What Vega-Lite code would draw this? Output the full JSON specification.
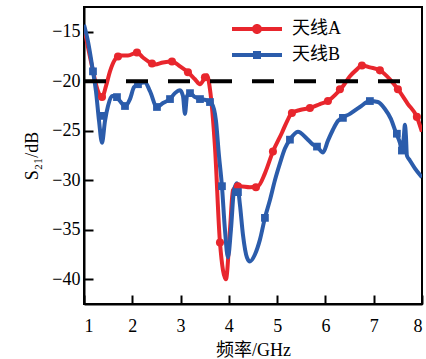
{
  "$schema": "https://vega.github.io/schema/vega-lite/v6.json",
  "width": 338,
  "height": 297,
  "autosize": "none",
  "padding": {"left": 84, "top": 7, "right": 4, "bottom": 55},
  "config": {
    "view": {"stroke": "black", "strokeWidth": 2},
    "font": "Liberation Serif",
    "axis": {
      "domainColor": "black", "domainWidth": 2, "tickColor": "black", "tickWidth": 2,
      "tickSize": -9, "grid": false, "labelFont": "Liberation Serif", "labelFontSize": 18,
      "labelColor": "black", "titleFont": "Liberation Serif, Noto Sans CJK SC", "titleFontSize": 18,
      "titleColor": "black", "titleFontWeight": "normal"
    }
  },
  "datasets": {
    "curve": [
      {"s":"天线A","f":1.0,"v":-14.5},{"s":"天线A","f":1.166,"v":-18.5},{"s":"天线A","f":1.29,"v":-21.0},{"s":"天线A","f":1.373,"v":-21.6},{"s":"天线A","f":1.455,"v":-20.5},{"s":"天线A","f":1.538,"v":-19.0},{"s":"天线A","f":1.642,"v":-17.8},{"s":"天线A","f":1.745,"v":-17.4},{"s":"天线A","f":1.911,"v":-17.4},{"s":"天线A","f":2.097,"v":-17.1},{"s":"天线A","f":2.222,"v":-17.6},{"s":"天线A","f":2.366,"v":-18.1},{"s":"天线A","f":2.47,"v":-18.3},{"s":"天线A","f":2.636,"v":-18.1},{"s":"天线A","f":2.822,"v":-18.0},{"s":"天线A","f":2.988,"v":-18.5},{"s":"天线A","f":3.153,"v":-19.1},{"s":"天线A","f":3.298,"v":-19.8},{"s":"天线A","f":3.402,"v":-20.3},{"s":"天线A","f":3.484,"v":-19.8},{"s":"天线A","f":3.547,"v":-19.4},{"s":"天线A","f":3.609,"v":-20.8},{"s":"天线A","f":3.712,"v":-26.6},{"s":"天线A","f":3.816,"v":-36.3},{"s":"天线A","f":3.94,"v":-40.0},{"s":"天线A","f":4.023,"v":-35.0},{"s":"天线A","f":4.085,"v":-31.0},{"s":"天线A","f":4.147,"v":-30.7},{"s":"天线A","f":4.23,"v":-30.6},{"s":"天线A","f":4.437,"v":-30.7},{"s":"天线A","f":4.602,"v":-30.6},{"s":"天线A","f":4.747,"v":-29.3},{"s":"天线A","f":4.913,"v":-27.1},{"s":"天线A","f":5.099,"v":-25.2},{"s":"天线A","f":5.2,"v":-24.1},{"s":"天线A","f":5.306,"v":-23.2},{"s":"天线A","f":5.472,"v":-22.9},{"s":"天线A","f":5.679,"v":-22.7},{"s":"天线A","f":5.886,"v":-22.3},{"s":"天线A","f":6.052,"v":-22.0},{"s":"天线A","f":6.197,"v":-21.4},{"s":"天线A","f":6.362,"v":-20.5},{"s":"天线A","f":6.507,"v":-19.5},{"s":"天线A","f":6.652,"v":-18.8},{"s":"天线A","f":6.756,"v":-18.4},{"s":"天线A","f":6.921,"v":-18.6},{"s":"天线A","f":7.128,"v":-18.9},{"s":"天线A","f":7.335,"v":-19.8},{"s":"天线A","f":7.501,"v":-20.8},{"s":"天线A","f":7.708,"v":-22.3},{"s":"天线A","f":7.894,"v":-23.6},{"s":"天线A","f":7.998,"v":-25.1},
      {"s":"天线B","f":1.0,"v":-14.3},{"s":"天线B","f":1.083,"v":-16.0},{"s":"天线B","f":1.186,"v":-19.0},{"s":"天线B","f":1.248,"v":-21.0},{"s":"天线B","f":1.311,"v":-24.0},{"s":"天线B","f":1.373,"v":-26.2},{"s":"天线B","f":1.435,"v":-24.0},{"s":"天线B","f":1.497,"v":-22.5},{"s":"天线B","f":1.58,"v":-21.5},{"s":"天线B","f":1.663,"v":-21.5},{"s":"天线B","f":1.745,"v":-22.0},{"s":"天线B","f":1.849,"v":-22.5},{"s":"天线B","f":1.952,"v":-21.8},{"s":"天线B","f":2.035,"v":-20.6},{"s":"天线B","f":2.118,"v":-20.3},{"s":"天线B","f":2.263,"v":-20.1},{"s":"天线B","f":2.366,"v":-21.0},{"s":"天线B","f":2.511,"v":-22.6},{"s":"天线B","f":2.636,"v":-22.2},{"s":"天线B","f":2.781,"v":-21.8},{"s":"天线B","f":2.884,"v":-21.2},{"s":"天线B","f":2.988,"v":-20.9},{"s":"天线B","f":3.05,"v":-21.5},{"s":"天线B","f":3.091,"v":-23.3},{"s":"天线B","f":3.133,"v":-21.5},{"s":"天线B","f":3.195,"v":-21.2},{"s":"天线B","f":3.298,"v":-21.6},{"s":"天线B","f":3.402,"v":-21.8},{"s":"天线B","f":3.526,"v":-21.9},{"s":"天线B","f":3.65,"v":-22.3},{"s":"天线B","f":3.733,"v":-24.0},{"s":"天线B","f":3.795,"v":-27.5},{"s":"天线B","f":3.857,"v":-30.6},{"s":"天线B","f":3.919,"v":-35.0},{"s":"天线B","f":3.981,"v":-37.8},{"s":"天线B","f":4.043,"v":-35.0},{"s":"天线B","f":4.106,"v":-31.0},{"s":"天线B","f":4.168,"v":-30.3},{"s":"天线B","f":4.23,"v":-32.5},{"s":"天线B","f":4.292,"v":-35.5},{"s":"天线B","f":4.375,"v":-37.8},{"s":"天线B","f":4.437,"v":-38.2},{"s":"天线B","f":4.54,"v":-37.5},{"s":"天线B","f":4.644,"v":-36.0},{"s":"天线B","f":4.747,"v":-33.8},{"s":"天线B","f":4.851,"v":-32.0},{"s":"天线B","f":4.954,"v":-30.0},{"s":"天线B","f":5.058,"v":-28.3},{"s":"天线B","f":5.161,"v":-26.8},{"s":"天线B","f":5.265,"v":-25.9},{"s":"天线B","f":5.43,"v":-25.1},{"s":"天线B","f":5.617,"v":-25.8},{"s":"天线B","f":5.741,"v":-26.4},{"s":"天线B","f":5.825,"v":-26.6},{"s":"天线B","f":5.95,"v":-27.2},{"s":"天线B","f":6.052,"v":-26.0},{"s":"天线B","f":6.155,"v":-24.9},{"s":"天线B","f":6.26,"v":-24.0},{"s":"天线B","f":6.507,"v":-23.3},{"s":"天线B","f":6.714,"v":-22.6},{"s":"天线B","f":6.921,"v":-22.0},{"s":"天线B","f":7.087,"v":-22.1},{"s":"天线B","f":7.232,"v":-22.8},{"s":"天线B","f":7.356,"v":-23.8},{"s":"天线B","f":7.46,"v":-25.2},{"s":"天线B","f":7.542,"v":-26.2},{"s":"天线B","f":7.584,"v":-27.0},{"s":"天线B","f":7.625,"v":-25.5},{"s":"天线B","f":7.646,"v":-24.4},{"s":"天线B","f":7.667,"v":-25.5},{"s":"天线B","f":7.687,"v":-27.5},{"s":"天线B","f":7.749,"v":-28.0},{"s":"天线B","f":7.853,"v":-28.8},{"s":"天线B","f":7.998,"v":-29.7}
    ],
    "marks": [
      {"s":"天线A","f":1.373,"v":-21.6},{"s":"天线A","f":1.704,"v":-17.5},{"s":"天线A","f":2.097,"v":-17.1},{"s":"天线A","f":2.408,"v":-18.2},{"s":"天线A","f":2.822,"v":-18.0},{"s":"天线A","f":3.153,"v":-19.1},{"s":"天线A","f":3.505,"v":-19.6},{"s":"天线A","f":3.816,"v":-36.3},{"s":"天线A","f":4.188,"v":-30.6},{"s":"天线A","f":4.561,"v":-30.7},{"s":"天线A","f":4.913,"v":-27.1},{"s":"天线A","f":5.306,"v":-23.2},{"s":"天线A","f":5.679,"v":-22.7},{"s":"天线A","f":6.052,"v":-22.0},{"s":"天线A","f":6.3,"v":-20.8},{"s":"天线A","f":6.756,"v":-18.4},{"s":"天线A","f":7.128,"v":-18.9},{"s":"天线A","f":7.501,"v":-20.8},{"s":"天线A","f":7.894,"v":-23.6},
      {"s":"天线B","f":1.186,"v":-19.0},{"s":"天线B","f":1.394,"v":-23.5},{"s":"天线B","f":1.683,"v":-21.6},{"s":"天线B","f":1.849,"v":-22.5},{"s":"天线B","f":2.118,"v":-20.3},{"s":"天线B","f":2.511,"v":-22.6},{"s":"天线B","f":2.781,"v":-21.8},{"s":"天线B","f":3.195,"v":-21.2},{"s":"天线B","f":3.402,"v":-21.8},{"s":"天线B","f":3.609,"v":-22.1},{"s":"天线B","f":3.857,"v":-30.6},{"s":"天线B","f":4.188,"v":-31.2},{"s":"天线B","f":4.747,"v":-33.8},{"s":"天线B","f":5.265,"v":-25.9},{"s":"天线B","f":5.825,"v":-26.6},{"s":"天线B","f":6.362,"v":-23.7},{"s":"天线B","f":6.921,"v":-22.0},{"s":"天线B","f":7.48,"v":-25.3},{"s":"天线B","f":7.584,"v":-27.0}
    ],
    "limit": [{"f1": 1, "f2": 7.584, "v": -20}]
  },
  "layer": [
    {
      "data": {"name": "curve"},
      "mark": {"type": "line", "strokeWidth": 4, "interpolate": "monotone", "clip": true},
      "encoding": {
        "x": {"field": "f", "type": "quantitative", "scale": {"domain": [1, 8], "nice": false},
              "axis": {"values": [1,2,3,4,5,6,7,8], "format": "d", "title": "频率/GHz", "labelPadding": 22, "titlePadding": 6}},
        "y": {"field": "v", "type": "quantitative", "scale": {"domain": [-42.5, -12.5], "nice": false},
              "axis": {"values": [-15,-20,-25,-30,-35,-40], "format": "d", "title": "S₂₁/dB", "labelPadding": 13, "titlePadding": 10}},
        "color": {"field": "s", "type": "nominal", "scale": {"domain": ["天线A","天线B"], "range": ["#e8262d","#2b5cab"]},
          "legend": {"title": null, "orient": "none", "legendX": 164, "legendY": 13, "padding": 0,
            "labelFont": "Liberation Serif, Noto Sans CJK SC", "labelFontSize": 18, "labelColor": "black",
            "symbolSize": 100, "labelOffset": 26, "rowPadding": 8, "symbolStrokeWidth": 0, "symbolType": "circle",
            "encode": {"symbols": {"update": {
              "shape": {"signal": "datum.value === '天线A' ? 'M-5,-0.4H5V0.4H-5Z M1,0A1,1 0 1,1 -1,0A1,1 0 1,1 1,0Z' : 'M-5,-0.4H5V0.4H-5Z M-0.8,-0.8H0.8V0.8H-0.8Z'"},
              "fill": {"signal": "datum.value === '天线A' ? '#e8262d' : '#2b5cab'"},
              "strokeWidth": {"value": 0},
              "opacity": {"value": 1}
            }}}}
        }
      }
    },
    {
      "data": {"name": "marks"},
      "transform": [{"filter": "datum.s === '天线A'"}],
      "mark": {"type": "point", "filled": true, "opacity": 1, "size": 65, "shape": "circle"},
      "encoding": {
        "x": {"field": "f", "type": "quantitative"},
        "y": {"field": "v", "type": "quantitative"},
        "color": {"field": "s", "type": "nominal"}
      }
    },
    {
      "data": {"name": "marks"},
      "transform": [{"filter": "datum.s === '天线B'"}],
      "mark": {"type": "point", "filled": true, "opacity": 1, "size": 60, "shape": "square"},
      "encoding": {
        "x": {"field": "f", "type": "quantitative"},
        "y": {"field": "v", "type": "quantitative"},
        "color": {"field": "s", "type": "nominal"}
      }
    },
    {
      "data": {"name": "limit"},
      "mark": {"type": "rule", "color": "black", "strokeWidth": 4, "strokeDash": [22, 20]},
      "encoding": {
        "x": {"field": "f1", "type": "quantitative"},
        "x2": {"field": "f2"},
        "y": {"field": "v", "type": "quantitative"}
      }
    }
  ]
}
